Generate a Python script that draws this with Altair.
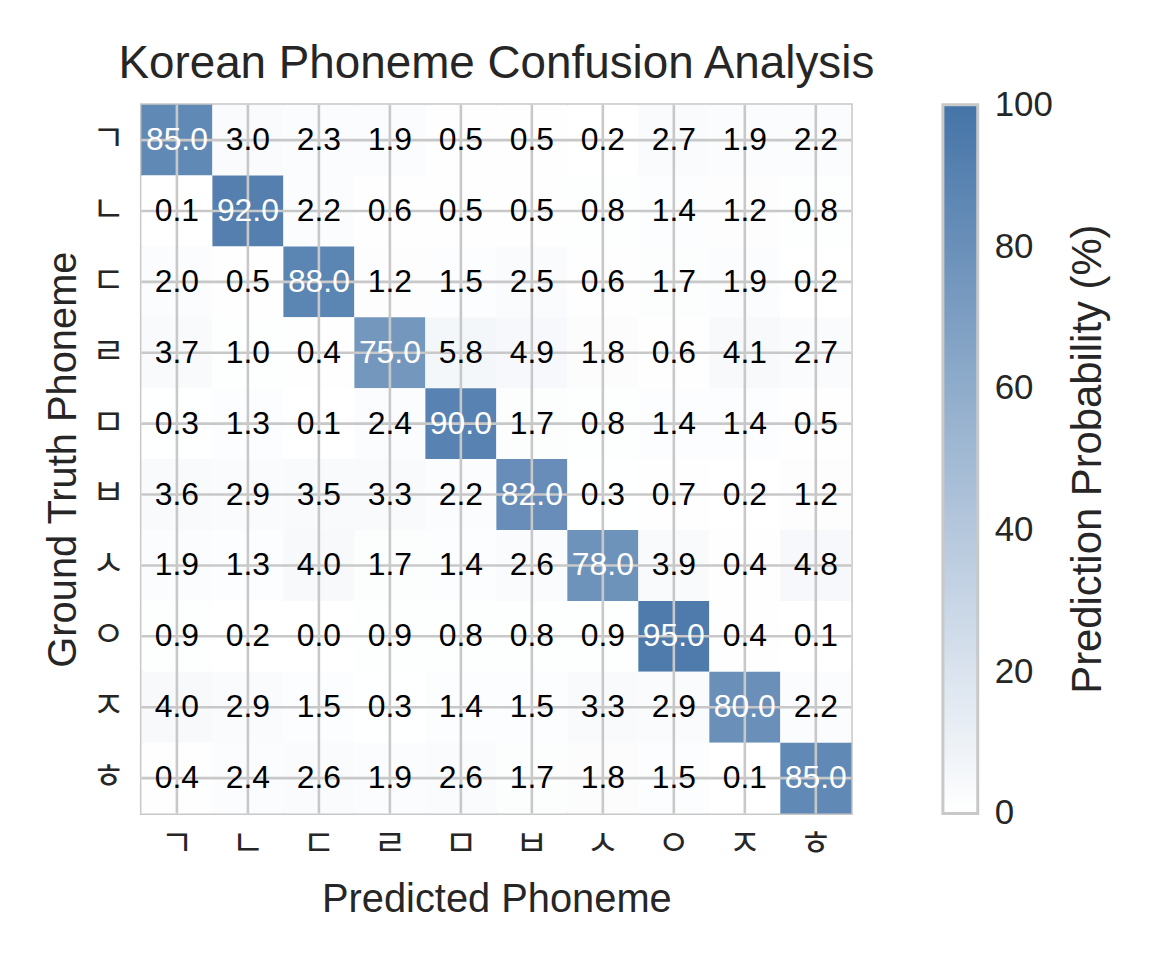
import pandas as pd
import altair as alt

# Korean phoneme labels (ground truth rows / predicted columns)
phonemes = ['ㄱ', 'ㄴ', 'ㄷ', 'ㄹ', 'ㅁ', 'ㅂ', 'ㅅ', 'ㅇ', 'ㅈ', 'ㅎ']

# prediction probability (%) per ground-truth row
row_0 = [85.0, 3.0, 2.3, 1.9, 0.5, 0.5, 0.2, 2.7, 1.9, 2.2]
row_1 = [0.1, 92.0, 2.2, 0.6, 0.5, 0.5, 0.8, 1.4, 1.2, 0.8]
row_2 = [2.0, 0.5, 88.0, 1.2, 1.5, 2.5, 0.6, 1.7, 1.9, 0.2]
row_3 = [3.7, 1.0, 0.4, 75.0, 5.8, 4.9, 1.8, 0.6, 4.1, 2.7]
row_4 = [0.3, 1.3, 0.1, 2.4, 90.0, 1.7, 0.8, 1.4, 1.4, 0.5]
row_5 = [3.6, 2.9, 3.5, 3.3, 2.2, 82.0, 0.3, 0.7, 0.2, 1.2]
row_6 = [1.9, 1.3, 4.0, 1.7, 1.4, 2.6, 78.0, 3.9, 0.4, 4.8]
row_7 = [0.9, 0.2, 0.0, 0.9, 0.8, 0.8, 0.9, 95.0, 0.4, 0.1]
row_8 = [4.0, 2.9, 1.5, 0.3, 1.4, 1.5, 3.3, 2.9, 80.0, 2.2]
row_9 = [0.4, 2.4, 2.6, 1.9, 2.6, 1.7, 1.8, 1.5, 0.1, 85.0]

legend_ticks = [0, 20, 40, 60, 80, 100]
colorbar_title = 'Prediction Probability (%)'

rows = [row_0, row_1, row_2, row_3, row_4, row_5, row_6, row_7, row_8, row_9]
records = []
for truth, row in zip(phonemes, rows):
    for pred, v in zip(phonemes, row):
        records.append({'truth': truth, 'pred': pred, 'value': v})
df = pd.DataFrame(records)
grid_df = pd.DataFrame({'truth': phonemes, 'pred': phonemes})

TEXT = '#262626'
GRID = '#c8c8c8'
FONT = 'Liberation Sans'
W, H = 713, 712

band = alt.Scale(paddingInner=0, paddingOuter=0)
axis_style = dict(ticks=False, domain=False, grid=False, labelAngle=0,
                  labelFont='Noto Sans CJK KR', labelFontSize=36, labelColor=TEXT,
                  titleFont=FONT, titleFontSize=40, titleFontWeight='normal',
                  titleColor=TEXT)

x_enc = alt.X('pred:O', sort=phonemes, scale=band, title='Predicted Phoneme',
              axis=alt.Axis(labelPadding=14, titlePadding=17, **axis_style))
y_enc = alt.Y('truth:O', sort=phonemes, scale=band, title='Ground Truth Phoneme',
              axis=alt.Axis(labelPadding=17, titlePadding=8, **axis_style))

# domain padded a hair so the end labels sit centred on the bar ends
heat = alt.Chart(df).mark_rect().encode(
    x=x_enc,
    y=y_enc,
    color=alt.Color('value:Q',
                    scale=alt.Scale(domain=[-0.05, 100.05], range=['#ffffff', '#4574a8'],
                                    interpolate='rgb'),
                    legend=alt.Legend(title=None, orient='right',
                                      offset=92, padding=0,
                                      gradientLength=H, gradientThickness=35,
                                      gradientStrokeColor=GRID, gradientStrokeWidth=3,
                                      values=legend_ticks, labelFont=FONT,
                                      labelFontSize=35, labelColor=TEXT, labelOffset=17))
)

vlines = alt.Chart(grid_df).mark_rule(color=GRID, strokeWidth=2.6).encode(x=x_enc)
hlines = alt.Chart(grid_df).mark_rule(color=GRID, strokeWidth=2.6).encode(y=y_enc)

labels = alt.Chart(df).mark_text(font=FONT, fontSize=32, align='center',
                                 baseline='middle').encode(
    x=x_enc,
    y=y_enc,
    text=alt.Text('value:Q', format='.1f'),
    color=alt.condition(alt.datum.value > 50, alt.value('white'), alt.value('black'))
)

# rotated colorbar title, placed to the right of the legend labels
cbar_title = alt.Chart(pd.DataFrame({'t': [colorbar_title]})).mark_text(
    font=FONT, fontSize=42, color=TEXT, angle=270, align='center', baseline='top'
).encode(text='t:N', x=alt.value(W + 218), y=alt.value(H / 2))

chart = (heat + vlines + hlines + labels + cbar_title).properties(
    width=W,
    height=H,
    autosize='none',
    padding={'left': 134, 'top': 95, 'right': 300, 'bottom': 141},
    title=alt.Title('Korean Phoneme Confusion Analysis', font=FONT, fontSize=46,
                    fontWeight='normal', color=TEXT, offset=15, anchor='middle'),
).configure_view(stroke=GRID, strokeWidth=3)

chart.save('out.html', embed_options={'renderer': 'svg', 'actions': False})
